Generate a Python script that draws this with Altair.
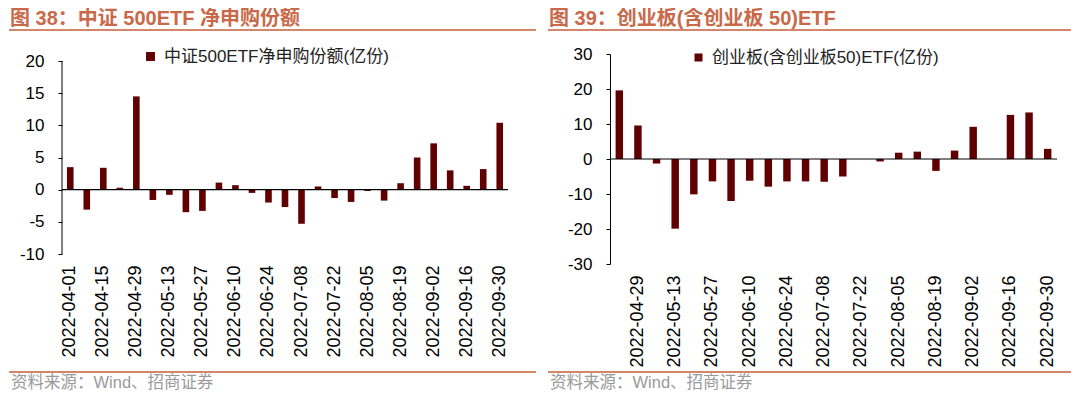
import altair as alt
import pandas as pd

# ---------------- data ----------------
dates_a = ["2022-04-01", "2022-04-08", "2022-04-15", "2022-04-22", "2022-04-29",
           "2022-05-06", "2022-05-13", "2022-05-20", "2022-05-27", "2022-06-03",
           "2022-06-10", "2022-06-17", "2022-06-24", "2022-07-01", "2022-07-08",
           "2022-07-15", "2022-07-22", "2022-07-29", "2022-08-05", "2022-08-12",
           "2022-08-19", "2022-08-26", "2022-09-02", "2022-09-09", "2022-09-16",
           "2022-09-23", "2022-09-30"]
vals_a = [3.5, -3.1, 3.4, 0.3, 14.5, -1.6, -0.8, -3.5, -3.3, 1.1, 0.7, -0.5, -2.0,
          -2.7, -5.3, 0.5, -1.3, -1.9, -0.2, -1.7, 1.0, 5.0, 7.2, 3.0, 0.6, 3.2, 10.4]

dates_b = ["2022-04-22", "2022-04-29", "2022-05-06", "2022-05-13", "2022-05-20",
           "2022-05-27", "2022-06-03", "2022-06-10", "2022-06-17", "2022-06-24",
           "2022-07-01", "2022-07-08", "2022-07-15", "2022-07-22", "2022-07-29",
           "2022-08-05", "2022-08-12", "2022-08-19", "2022-08-26", "2022-09-02",
           "2022-09-09", "2022-09-16", "2022-09-23", "2022-09-30"]
vals_b = [19.6, 9.6, -1.3, -19.9, -10.1, -6.4, -12.0, -6.2, -7.9, -6.4, -6.4, -6.5,
          -5.0, None, -0.7, 1.8, 2.1, -3.4, 2.4, 9.2, None, 12.6, 13.3, 2.9]

xticks_a = dates_a[0::2]
xticks_b = dates_b[1::2]
yticks_a = [-10, -5, 0, 5, 10, 15, 20]
yticks_b = [-30, -20, -10, 0, 10, 20, 30]

series_a = "中证500ETF净申购份额(亿份)"
series_b = "创业板(含创业板50)ETF(亿份)"
title_a = "图 38：中证 500ETF 净申购份额"
title_b = "图 39：创业板(含创业板 50)ETF"
source_text = "资料来源：Wind、招商证券"

# ---------------- style ----------------
BAR = "#600000"
ORANGE = "#C8694A"
LINE = "#D4866A"
GRAY = "#9A9A9A"
FONT = "Liberation Sans, Noto Sans CJK SC"


def panel(dates, vals, xticks, yticks, ydom, series, title, width, height,
          leg_x, leg_y, sym, left_edge, right_edge, manual_domain):
    df = pd.DataFrame({"date": dates, "value": vals, "series": [series] * len(dates)})
    yscale = alt.Scale(domain=ydom, nice=False, zero=False)
    yaxis = alt.Axis(values=yticks, title=None, grid=False,
                     domain=not manual_domain, domainColor="black",
                     tickColor="black", tickSize=4, labelPadding=14,
                     labelFontSize=17, labelColor="black", labelFont=FONT,
                     labelOverlap=False, labelExpr="'' + datum.value")
    bars = alt.Chart(df).mark_bar().encode(
        x=alt.X("date:N", sort=dates,
                scale=alt.Scale(domain=dates, paddingInner=0.6, paddingOuter=0.3),
                axis=alt.Axis(values=xticks, labelAngle=270, title=None, domain=False,
                              ticks=False, tickSize=0, labelPadding=11, labelFontSize=18,
                              labelColor="black", labelFont=FONT, labelOverlap=False)),
        y=alt.Y("value:Q", scale=yscale, axis=yaxis),
        color=alt.Color("series:N", scale=alt.Scale(range=[BAR]),
                        legend=alt.Legend(orient="none", legendX=leg_x, legendY=leg_y,
                                          title=None, symbolType="square", symbolSize=sym,
                                          symbolStrokeWidth=0, labelFont=FONT,
                                          labelFontSize=17, labelColor="#222",
                                          labelOffset=5, labelLimit=500, padding=0)),
    )
    zero = alt.Chart(pd.DataFrame({"value": [0]})).mark_rule(
        color="black", strokeWidth=1.2).encode(y=alt.Y("value:Q", scale=yscale, axis=yaxis))
    layers = [bars, zero]
    if manual_domain:
        dom = alt.Chart(pd.DataFrame({"value": [yticks[0]], "hi": [yticks[-1]]})).mark_rule(
            color="black", strokeWidth=1).encode(
            x=alt.value(0), y=alt.Y("value:Q", scale=yscale, axis=yaxis), y2="hi:Q")
        layers.append(dom)
    deco = pd.DataFrame({"title": [title], "src": [source_text]})
    dbase = alt.Chart(deco)
    pin = dbase.mark_rule(opacity=0, strokeWidth=1).encode(
        x=alt.value(left_edge), x2=alt.value(left_edge + 10), y=alt.value(-46))
    title_mark = dbase.mark_text(align="left", baseline="middle", font=FONT, fontSize=20,
                                 fontWeight="bold", color=ORANGE).encode(
        text="title:N", x=alt.value(left_edge + 1), y=alt.value(-35))
    head_line = dbase.mark_rule(color=LINE, strokeWidth=2).encode(
        x=alt.value(left_edge), x2=alt.value(right_edge), y=alt.value(-24))
    foot_line = dbase.mark_rule(color=LINE, strokeWidth=2).encode(
        x=alt.value(left_edge), x2=alt.value(right_edge), y=alt.value(318))
    foot_text = dbase.mark_text(align="left", baseline="middle", font=FONT, fontSize=16.5,
                                color=GRAY).encode(
        text="src:N", x=alt.value(left_edge + 2), y=alt.value(329))
    layers += [pin, title_mark, head_line, foot_line, foot_text]
    return alt.layer(*layers).properties(width=width, height=height)


left = panel(dates_a, vals_a, xticks_a, yticks_a, [-10, 21.09], series_a, title_a,
             446, 200, 80, -6, 80, -53, 474, True)
right = panel(dates_b, vals_b, xticks_b, yticks_b, [-30, 30], series_b, title_b,
              447, 210, 80, -5, 64, -62, 461, False)

chart = alt.hconcat(left, right, spacing=102, bounds="flush").resolve_scale(
    x="independent", y="independent", color="independent"
).properties(padding=0).configure_view(strokeWidth=0)

chart.save("out.html", embed_options={"renderer": "svg", "actions": False})
